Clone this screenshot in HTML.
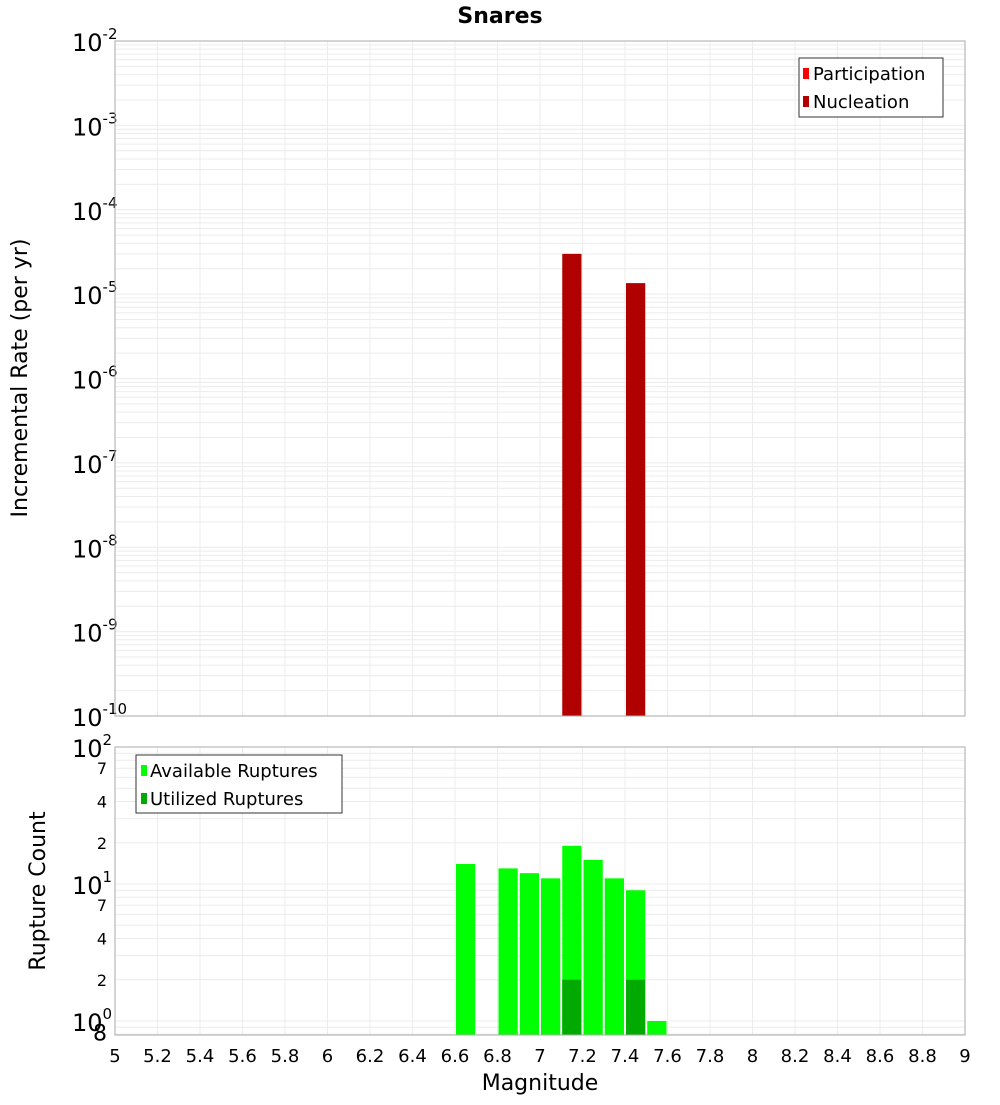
<!DOCTYPE html>
<html><head><meta charset="utf-8"><style>
body{margin:0;background:#fff;}
svg text{font-family:"DejaVu Sans","Liberation Sans",sans-serif;fill:#000;}
</style></head><body>
<svg id="c" width="1000" height="1100" xmlns="http://www.w3.org/2000/svg">
<text x="500" y="23" text-anchor="middle" font-size="22" font-weight="bold">Snares</text>
<text transform="translate(27,378) rotate(-90)" text-anchor="middle" font-size="22">Incremental Rate (per yr)</text>
<text transform="translate(45,891) rotate(-90)" text-anchor="middle" font-size="22">Rupture Count</text>
<text x="540" y="1090" text-anchor="middle" font-size="22">Magnitude</text>
<g id="gtop"></g><g id="gbot"></g>
<g>
<rect x="799" y="58" width="144" height="59" fill="#fff" stroke="#333"/>
<rect x="803" y="68" width="6" height="11" fill="#ff0000"/>
<text x="813" y="80" font-size="18">Participation</text>
<rect x="803" y="96" width="6" height="11" fill="#b00000"/>
<text x="813" y="108" font-size="18">Nucleation</text>
</g>
<g>
<rect x="136" y="755" width="206" height="58" fill="#fff" stroke="#333"/>
<rect x="141" y="765" width="6" height="11" fill="#00ff00"/>
<text x="150" y="777" font-size="18">Available Ruptures</text>
<rect x="141" y="793" width="6" height="11" fill="#00aa00"/>
<text x="150" y="805" font-size="18">Utilized Ruptures</text>
</g>
</svg>
<script>
const binCenters=[6.65,6.85,6.95,7.05,7.15,7.25,7.35,7.45,7.55];
const available=[14,13,12,11,19,15,11,9,1];
const utilizedMags=[7.15,7.45];
const utilized=[2,2];
const nucleationMags=[7.15,7.45];
const nucleation=[3.0e-5,1.35e-5];
const xTicks=[5,5.2,5.4,5.6,5.8,6,6.2,6.4,6.6,6.8,7,7.2,7.4,7.6,7.8,8,8.2,8.4,8.6,8.8,9];
const NS='http://www.w3.org/2000/svg';
const X0=115,X1=965;
const x=m=>X0+(m-5)/4*(X1-X0);
const TY0=41,TY1=716;
const ty=v=>TY0+(-2-Math.log10(v))/8*(TY1-TY0);
const BY0=747,BY1=1035;
const by=v=>1021-Math.log10(v)*137;
function el(p,t,a){const e=document.createElementNS(NS,t);for(const k in a)e.setAttribute(k,a[k]);p.appendChild(e);return e;}
const gTop=document.getElementById('gtop'),gBot=document.getElementById('gbot');
for(let d=-10;d<-2;d++)for(let k=1;k<10;k++){const y=ty(k*Math.pow(10,d));
const g=el(gTop,'line',{x1:X0,x2:X1,y1:y,y2:y,stroke:'#ececec','stroke-width':1});

}
xTicks.forEach(t=>{const g=el(gTop,'line',{x1:x(t),x2:x(t),y1:TY0,y2:TY1,stroke:'#ececec'});


const h=el(gBot,'line',{x1:x(t),x2:x(t),y1:BY0,y2:BY1,stroke:'#ececec'});

});
for(let d=-1;d<2;d++)for(let k=1;k<10;k++){const v=k*Math.pow(10,d);const y=by(v);if(y<BY0||y>BY1)continue;
const g=el(gBot,'line',{x1:X0,x2:X1,y1:y,y2:y,stroke:'#ececec'});

}
for(let d=-2;d>=-10;d--){const y=ty(Math.pow(10,d));
const t=el(gTop,'text',{x:72,y:y+10,'font-size':24});


t.textContent='10';
const s=el(t,'tspan',{dy:-12,'font-size':15});s.textContent=String(d);}
nucleationMags.forEach((m,i)=>{const r=el(gTop,'rect',{x:x(m-0.05)+1,y:ty(nucleation[i]),width:x(m+0.05)-x(m-0.05)-2,height:TY1-ty(nucleation[i]),fill:'#b00000'});

});
el(gTop,'rect',{x:X0,y:TY0,width:X1-X0,height:TY1-TY0,fill:'none',stroke:'#aaa'});
binCenters.forEach((m,i)=>{const y=by(available[i]);const r=el(gBot,'rect',{x:x(m-0.05)+1,y:y,width:x(m+0.05)-x(m-0.05)-2,height:BY1-y,fill:'#00ff00'});

});
utilizedMags.forEach((m,i)=>{const y=by(utilized[i]);const r=el(gBot,'rect',{x:x(m-0.05)+1,y:y,width:x(m+0.05)-x(m-0.05)-2,height:BY1-y,fill:'#00aa00'});

});
el(gBot,'rect',{x:X0,y:BY0,width:X1-X0,height:BY1-BY0,fill:'none',stroke:'#aaa'});
[[2,'10','2'],[1,'10','1'],[0,'10','0']].forEach(([p,b,s])=>{const y=by(Math.pow(10,p));
const t=el(gBot,'text',{x:72,y:y+10,'font-size':24});


t.textContent=b;const sp=el(t,'tspan',{dy:-12,'font-size':15});sp.textContent=s;});
[[7,'7'],[4,'4'],[2,'2'],[70,'7'],[40,'4'],[20,'2'],[0.8,'8']].forEach(([v,s])=>{
const t=el(gBot,'text',{x:107,y:by(v)+6,'font-size':v<1?22:16,'text-anchor':'end'});


t.textContent=s;});
xTicks.forEach(v=>{const t=el(gBot,'text',{x:x(v),y:1062,'font-size':18,'text-anchor':'middle'});


t.textContent=String(v);});
</script>
</body></html>
